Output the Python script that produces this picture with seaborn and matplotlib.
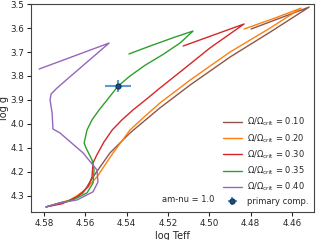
import numpy as np
import pandas as pd
import matplotlib
matplotlib.use("Agg")
import matplotlib.pyplot as plt
from matplotlib.lines import Line2D
import seaborn as sns

# ---- data ----
labels = ["0.10", "0.20", "0.30", "0.35", "0.40"]
colors = ["#8c564b", "#ff7f0e", "#d62728", "#2ca02c", "#9467bd"]

teff_010 = [4.579, 4.5674, 4.5611, 4.5563, 4.5481, 4.5384, 4.5239, 4.5093, 4.4900, 4.4706, 4.4517, 4.4798]
logg_010 = [4.346, 4.321, 4.2875, 4.221, 4.121, 4.0375, 3.933, 3.8375, 3.721, 3.617, 3.5125, 3.604]

teff_020 = [4.579, 4.5674, 4.5611, 4.5544, 4.5466, 4.5384, 4.5321, 4.5239, 4.5093, 4.4900, 4.4706, 4.4556, 4.4682, 4.4832]
logg_020 = [4.346, 4.317, 4.283, 4.221, 4.121, 4.025, 3.975, 3.9125, 3.817, 3.700, 3.600, 3.517, 3.558, 3.604]

teff_030 = [4.579, 4.5713, 4.5640, 4.5587, 4.5568, 4.5563, 4.5545, 4.5510, 4.5470, 4.5423, 4.5370, 4.5302, 4.5239,
            4.5118, 4.4997, 4.4832, 4.5127]
logg_030 = [4.346, 4.333, 4.304, 4.2625, 4.221, 4.1625, 4.130, 4.075, 4.025, 3.983, 3.942, 3.895, 3.850,
            3.767, 3.683, 3.583, 3.675]

teff_035 = [4.579, 4.5723, 4.566, 4.5592, 4.5563, 4.5558, 4.5568, 4.5597, 4.5606, 4.5592, 4.5568, 4.5534, 4.5495,
            4.5442, 4.5384, 4.5311, 4.5224, 4.5142, 4.5079, 4.5166, 4.5287, 4.5389]
logg_035 = [4.346, 4.329, 4.317, 4.2875, 4.246, 4.192, 4.150, 4.100, 4.079, 4.025, 3.983, 3.942, 3.900,
            3.842, 3.800, 3.755, 3.710, 3.6625, 3.6125, 3.6375, 3.675, 3.708]

teff_040 = [4.579, 4.5723, 4.5640, 4.5563, 4.5539, 4.5544, 4.5611, 4.5723, 4.5757, 4.5761, 4.5771, 4.5766,
            4.5737, 4.5689, 4.5611, 4.5485, 4.5824]
logg_040 = [4.346, 4.329, 4.317, 4.283, 4.242, 4.192, 4.121, 4.0375, 4.021, 3.954, 3.900, 3.875,
            3.850, 3.814, 3.756, 3.6625, 3.771]

star_teff, star_logg = 4.5442, 3.842
star_teff_err, star_logg_err = 0.0063, 0.026

x_ticks = [4.58, 4.56, 4.54, 4.52, 4.50, 4.48, 4.46]
y_ticks = [3.5, 3.6, 3.7, 3.8, 3.9, 4.0, 4.1, 4.2, 4.3]

tracks = [(teff_010, logg_010), (teff_020, logg_020), (teff_030, logg_030),
          (teff_035, logg_035), (teff_040, logg_040)]

rows = []
for lab, (t, g) in zip(labels, tracks):
    for i, (tt, gg) in enumerate(zip(t, g)):
        rows.append({"track": lab, "i": i, "teff": tt, "logg": gg})
df = pd.DataFrame(rows)

sns.set_style("ticks")
plt.rcParams["font.family"] = ["DejaVu Sans"]

fig = plt.figure(figsize=(3.2, 2.4), dpi=100)
ax = fig.add_axes([0.097, 0.117, 0.884, 0.866])

sns.lineplot(data=df, x="teff", y="logg", hue="track", hue_order=labels,
             palette=dict(zip(labels, colors)), sort=False, estimator=None,
             units="track", linewidth=1.0, legend=False, ax=ax)

ax.errorbar([star_teff], [star_logg], xerr=[star_teff_err], yerr=[star_logg_err],
            fmt="o", ms=3.5, color="#1f77b4", mfc="#1b4f7a", mec="#123a5c",
            ecolor="#5b9bd5", elinewidth=1.5, capsize=0, zorder=5)

ax.set_xlim(4.5863, 4.4494)
ax.set_ylim(4.367, 3.5)
ax.set_xticks(x_ticks)
ax.set_xticklabels([f"{v:.2f}" for v in x_ticks])
ax.set_yticks(y_ticks)
ax.set_yticklabels([f"{v:.1f}" for v in y_ticks])
ax.tick_params(labelsize=6.3, length=3, width=0.8, pad=2)
ax.set_xlabel("log Teff", fontsize=7, labelpad=2)
ax.set_ylabel("log g", fontsize=7)
ax.yaxis.set_label_coords(-0.078, 0.5)
for s in ax.spines.values():
    s.set_linewidth(0.8)
    s.set_color("#444444")

ax.text(4.5228, 4.317, "am-nu = 1.0", fontsize=6, ha="left", va="center")

handles = [Line2D([], [], color=c, lw=1.0) for c in colors]
hlabels = [r"$\Omega/\Omega_{\rm crit}$ = " + l for l in labels]
star_h = ax.errorbar([], [], xerr=[], yerr=[], fmt="o", ms=3.5, mfc="#1b4f7a",
                     mec="#123a5c", ecolor="#5b9bd5", elinewidth=1.5)
handles.append(star_h)
hlabels.append("primary comp.")
ax.legend(handles, hlabels, loc="lower right", frameon=False, fontsize=6,
          handlelength=2.2, handletextpad=0.6, labelspacing=0.45,
          borderaxespad=0.3)

fig.savefig("out.png", dpi=100)
